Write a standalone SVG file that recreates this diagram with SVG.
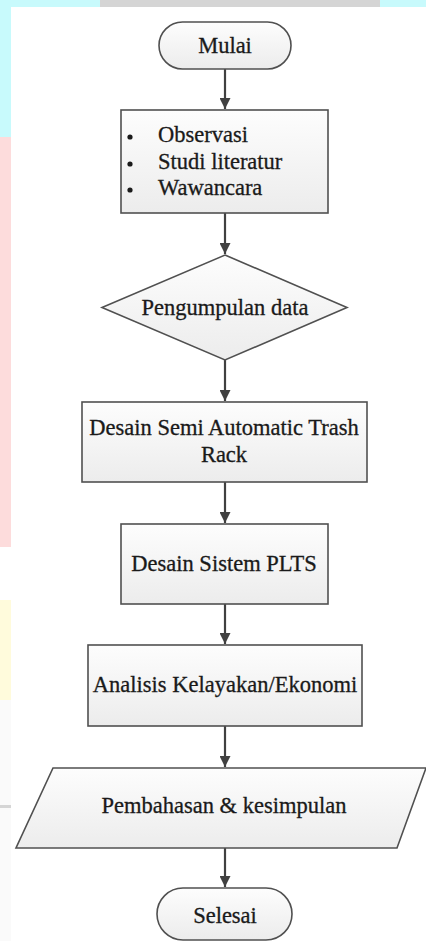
<svg xmlns="http://www.w3.org/2000/svg" width="426" height="941" viewBox="0 0 426 941">
<defs>
<style>
.shape{fill:url(#g);stroke:#505050;stroke-width:1.6}
.t{font-family:"Liberation Serif","Times New Roman",serif;font-size:22.5px;fill:#1a1a1a;stroke:#1a1a1a;stroke-width:0.3}
.c{text-anchor:middle}
.ln{stroke:#404040;stroke-width:2.2;fill:none}
</style>
<linearGradient id="g" x1="0" y1="0" x2="0" y2="1">
<stop offset="0" stop-color="#fdfdfd"/>
<stop offset="1" stop-color="#ececec"/>
</linearGradient>
<marker id="ah" viewBox="0 0 10 10" refX="10" refY="5" markerWidth="5" markerHeight="5" orient="auto" markerUnits="strokeWidth">
<path d="M0,0 L10,5 L0,10 z" fill="#404040"/>
</marker>
</defs>
<rect width="426" height="941" fill="#ffffff"/>
<g id="bg">
<rect x="0" y="0" width="426" height="7" fill="#c8fafc"/>
<rect x="100" y="0" width="280" height="7" fill="#d5d5d5"/>
<rect x="0" y="0" width="11" height="137" fill="#c8fafc"/>
<rect x="0" y="137" width="11" height="410" fill="#fddcdc"/>
<rect x="0" y="600" width="11" height="100" fill="#fffbdc"/>
<rect x="0" y="700" width="11" height="241" fill="#fafafa"/>
<rect x="0" y="805" width="11" height="3" fill="#d5d5d5"/>
</g>
<g id="connectors">
<line class="ln" x1="225" y1="69" x2="225" y2="109" marker-end="url(#ah)"/>
<line class="ln" x1="225" y1="213" x2="225" y2="254" marker-end="url(#ah)"/>
<line class="ln" x1="225" y1="360" x2="225" y2="401" marker-end="url(#ah)"/>
<line class="ln" x1="225" y1="482" x2="225" y2="523" marker-end="url(#ah)"/>
<line class="ln" x1="225" y1="604" x2="225" y2="644" marker-end="url(#ah)"/>
<line class="ln" x1="225" y1="726" x2="225" y2="767" marker-end="url(#ah)"/>
<line class="ln" x1="225" y1="848" x2="225" y2="887" marker-end="url(#ah)"/>
</g>
<g id="mulai">
<rect class="shape" x="159" y="22" width="132" height="47" rx="23.5"/>
<text class="t c" x="225" y="53">Mulai</text>
</g>
<g id="kegiatan">
<rect class="shape" x="121" y="110" width="207" height="103"/>
<circle cx="130" cy="137" r="2.6" fill="#1a1a1a"/>
<circle cx="130" cy="164" r="2.6" fill="#1a1a1a"/>
<circle cx="130" cy="190" r="2.6" fill="#1a1a1a"/>
<text class="t" x="158" y="142">Observasi</text>
<text class="t" x="158" y="169">Studi literatur</text>
<text class="t" x="158" y="195">Wawancara</text>
</g>
<g id="pengumpulan">
<polygon class="shape" points="225,255 347,307.5 225,360 102,307.5"/>
<text class="t c" x="225" y="315">Pengumpulan data</text>
</g>
<g id="desain-trash">
<rect class="shape" x="82" y="402" width="285" height="80"/>
<text class="t c" x="224" y="435">Desain Semi Automatic Trash</text>
<text class="t c" x="224" y="462">Rack</text>
</g>
<g id="desain-plts">
<rect class="shape" x="121" y="524" width="207" height="80"/>
<text class="t c" x="224" y="571">Desain Sistem PLTS</text>
</g>
<g id="analisis">
<rect class="shape" x="88" y="645" width="274" height="81"/>
<text class="t c" x="225" y="692">Analisis Kelayakan/Ekonomi</text>
</g>
<g id="pembahasan">
<polygon class="shape" points="53,768 426,768 397,848 16,848"/>
<text class="t c" x="224" y="813">Pembahasan &amp; kesimpulan</text>
</g>
<g id="selesai">
<rect class="shape" x="157" y="888" width="135" height="52" rx="26"/>
<text class="t c" x="225" y="923">Selesai</text>
</g>
</svg>
